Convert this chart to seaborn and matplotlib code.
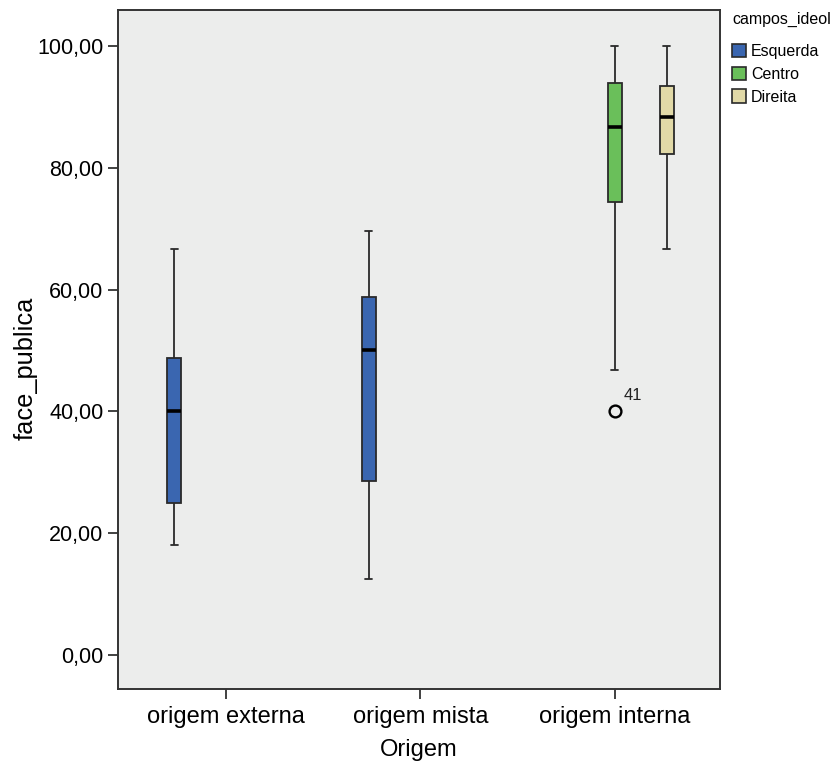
import matplotlib
matplotlib.use('Agg')
import matplotlib.pyplot as plt
import seaborn as sns
import pandas as pd
from matplotlib.ticker import FuncFormatter, FixedLocator

# ---- data ----
categories = ['origem externa', 'origem mista', 'origem interna']
hue_levels = ['Esquerda', 'Centro', 'Direita']
colors = ['#3a66b0', '#6abf5a', '#e1d9a7']

externa_esquerda = [18.0, 25.0, 40.0, 48.7, 66.7]
mista_esquerda = [12.4, 28.6, 50.0, 58.7, 69.6]
interna_centro = [40.0, 46.7, 74.3, 74.3, 86.7, 93.9, 93.9, 100.0, 100.0]
interna_direita = [66.7, 82.3, 88.4, 93.4, 100.0]
outlier_case = '41'
yticks = [0, 20, 40, 60, 80, 100]

groups = [
    ('origem externa', 'Esquerda', externa_esquerda),
    ('origem mista', 'Esquerda', mista_esquerda),
    ('origem interna', 'Centro', interna_centro),
    ('origem interna', 'Direita', interna_direita),
]
rows = []
for cat, hue, vals in groups:
    for v in vals:
        rows.append({'Origem': cat, 'campos_ideol': hue, 'face_publica': v})
df = pd.DataFrame(rows)

sns.set_style('ticks')
plt.rcParams['font.family'] = ['Liberation Sans', 'DejaVu Sans']
plt.rcParams['text.color'] = 'black'
plt.rcParams['axes.labelcolor'] = 'black'

fig = plt.figure(figsize=(8.35, 7.61), dpi=100)
ax = fig.add_axes([0.1413, 0.0946, 0.721, 0.8923])
ax.set_facecolor('#ecedec')

sns.boxplot(data=df, x='Origem', y='face_publica', hue='campos_ideol',
            order=categories, hue_order=hue_levels, palette=colors,
            dodge=True, width=0.8, gap=0.73, saturation=1,
            linecolor='#2a2a2a', linewidth=1.3, whis=1.5,
            flierprops=dict(marker='o', markersize=8.5, markerfacecolor='none',
                            markeredgecolor='black', markeredgewidth=1.7),
            medianprops=dict(color='black', linewidth=2.6),
            ax=ax)

# outlier case label
ax.annotate(outlier_case,
            xy=(categories.index('origem interna'), min(interna_centro)),
            xytext=(6, 6), textcoords='offset points',
            ha='left', va='bottom', fontsize=12, color='#222222')

ax.set_xlim(-0.555, 2.54)
ax.set_ylim(-5.6, 105.9)
ax.yaxis.set_major_locator(FixedLocator(yticks))
ax.yaxis.set_major_formatter(FuncFormatter(lambda v, p: f"{v:.2f}".replace('.', ',')))

for s in ax.spines.values():
    s.set_color('#333333')
    s.set_linewidth(1.4)
    s.set_visible(True)

ax.tick_params(axis='both', direction='out', length=7, width=1.3,
               color='#333333', labelcolor='black')
ax.tick_params(axis='y', labelsize=15.5)
ax.tick_params(axis='x', labelsize=17, pad=5)
ax.set_xlabel('Origem', fontsize=17, labelpad=8, color='black')
ax.set_ylabel('face_publica', fontsize=18.3, color='black')
ax.yaxis.set_label_coords(-0.134, 0.473)

sns.move_legend(ax, 'upper left', bbox_to_anchor=(1.02, 0.997), frameon=False,
                title='campos_ideol', fontsize=11.5, title_fontsize=11.5,
                handlelength=0.9, handleheight=0.9, handletextpad=0.3,
                labelspacing=0.48, borderaxespad=0, borderpad=0)
leg = ax.get_legend()
leg._legend_box.align = 'left'
leg._legend_box.sep = 12
leg.get_title().set_color('black')
for t in leg.get_texts():
    t.set_color('black')
for h in leg.legend_handles:
    h.set_edgecolor('#2a2a2a')
    h.set_linewidth(1.2)

fig.savefig('out.png', dpi=100, facecolor='white')
